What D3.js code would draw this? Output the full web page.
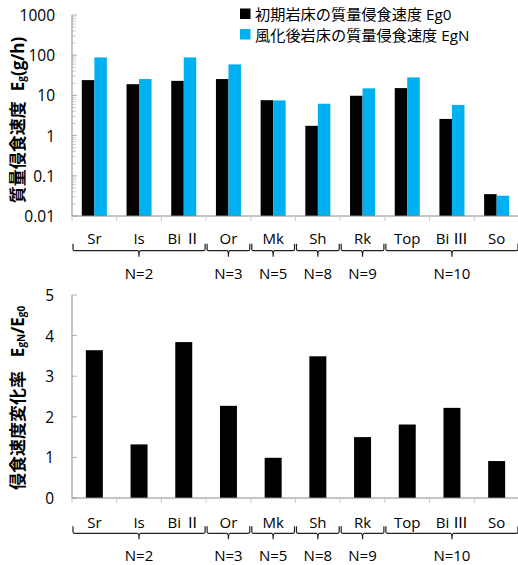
<!DOCTYPE html>
<html><head><meta charset="utf-8">
<script src="https://cdn.jsdelivr.net/npm/d3@7"></script>
<style>
html,body{margin:0;padding:0;background:#fff;}
text{font-family:"Open Sans","Noto Sans CJK JP",sans-serif;fill:#000;}
</style></head>
<body><svg id="c" width="518" height="565"></svg>
<script>
const categories = ["Sr","Is","Bi \u2161","Or","Mk","Sh","Rk","Top","Bi \u2162","So"];
const eg0 = [24, 19, 23, 25.5, 7.6, 1.75, 9.8, 15.2, 2.6, 0.035];
const egN = [88, 25.5, 88, 59, 7.5, 6.2, 15, 28, 5.8, 0.032];
const ratio = [3.64, 1.32, 3.84, 2.27, 0.99, 3.49, 1.50, 1.81, 2.22, 0.91];
const groups = [
  {label:"N=2", from:0, to:2},
  {label:"N=3", from:3, to:3},
  {label:"N=5", from:4, to:4},
  {label:"N=8", from:5, to:5},
  {label:"N=9", from:6, to:6},
  {label:"N=10", from:7, to:9}
];
const logTicks = [0.01, 0.1, 1, 10, 100, 1000];
const logTickLabels = ["0.01","0.1","1","10","100","1000"];
const linTicks = [0,1,2,3,4,5];
const seriesNames = ["初期岩床の質量侵食速度 Eg0","風化後岩床の質量侵食速度 EgN"];
const colors = ["#000000","#00B0F0"];

const svg = d3.select("#c");
const X0 = 72, X1 = 519;
const x = d3.scaleBand().domain(d3.range(categories.length)).range([X0, X1]).padding(0);
const bw = x.bandwidth();

function xAxisBlock(g, yAxis, labelY, brY, nY){
  g.append("line").attr("x1",X0).attr("x2",X1).attr("y1",yAxis).attr("y2",yAxis)
    .attr("stroke","#8c8c8c").attr("stroke-width",1);
  const bounds = d3.range(categories.length+1).map(i => X0 + i*bw);
  g.selectAll(null).data(bounds).join("line")
    .attr("x1",d=>d).attr("x2",d=>d).attr("y1",yAxis).attr("y2",yAxis+5)
    .attr("stroke","#c8c8c8").attr("stroke-width",1);
  g.selectAll(null).data(categories).join("text")
    .attr("x",(d,i)=>x(i)+bw/2).attr("y",labelY)
    .attr("text-anchor","middle").attr("dominant-baseline","central")
    .attr("font-size",15).text(d=>d);
  groups.forEach(gr=>{
    const a = x(gr.from)+1, b = x(gr.to)+bw-1, m=(a+b)/2;
    g.append("path")
      .attr("d",`M${a},${brY-7}L${a},${brY-1.5}Q${a},${brY} ${a+1.5},${brY}L${m-1.5},${brY}Q${m},${brY} ${m},${brY+6}Q${m},${brY} ${m+1.5},${brY}L${b-1.5},${brY}Q${b},${brY} ${b},${brY-1.5}L${b},${brY-7}`)
      .attr("fill","none").attr("stroke","#222").attr("stroke-width",1.2);
    g.append("text").attr("x",m).attr("y",nY)
      .attr("text-anchor","middle").attr("dominant-baseline","central")
      .attr("font-size",15).text(gr.label);
  });
}

// ---------- Top chart ----------
const gTop = svg.append("g");
const yT = d3.scaleLog().domain([0.01,1000]).range([216,15]);
const minor = [];
for (let k=-2;k<3;k++) for (let m=2;m<10;m++) minor.push(m*Math.pow(10,k));
gTop.selectAll(null).data(minor).join("line")
  .attr("x1",X0).attr("x2",X0+4).attr("y1",d=>yT(d)).attr("y2",d=>yT(d))
  .attr("stroke","#d0d0d0").attr("stroke-width",1);
gTop.selectAll(null).data(logTicks).join("line")
  .attr("x1",X0).attr("x2",X0+5).attr("y1",d=>yT(d)).attr("y2",d=>yT(d))
  .attr("stroke","#b0b0b0").attr("stroke-width",1);
gTop.selectAll(null).data(logTicks).join("text")
  .attr("x",55).attr("y",d=>yT(d)).attr("text-anchor","end").attr("dominant-baseline","central")
  .attr("font-size",15.5).text((d,i)=>logTickLabels[i]);
const gw = bw*0.56;
const xs = d3.scaleBand().domain([0,1]).range([0,gw]);
[eg0, egN].forEach((arr,s)=>{
  gTop.selectAll(null).data(arr).join("rect")
    .attr("x",(d,i)=>x(i)+(bw-gw)/2+xs(s)).attr("width",xs.bandwidth())
    .attr("y",d=>yT(d)).attr("height",d=>yT(0.01)-yT(d))
    .attr("fill",colors[s]);
});
gTop.append("line").attr("x1",X0).attr("x2",X0).attr("y1",yT(1000)).attr("y2",216)
  .attr("stroke","#8c8c8c").attr("stroke-width",1);
xAxisBlock(gTop, 216, 238, 250.7, 273);
const tt = gTop.append("text").attr("transform",`translate(17,120) rotate(-90)`)
  .attr("text-anchor","middle").attr("dominant-baseline","central")
  .attr("font-size",17).attr("font-weight","bold");
tt.append("tspan").text("質量侵食速度");
tt.append("tspan").attr("dx",10).text("E");
tt.append("tspan").attr("font-size",10).attr("dy",4).text("g");
tt.append("tspan").attr("dy",-4).text("(g/h)");
seriesNames.forEach((n,i)=>{
  gTop.append("rect").attr("x",240).attr("y",8.5+i*20.5).attr("width",10.5).attr("height",10.5).attr("fill",colors[i]);
  gTop.append("text").attr("x",255).attr("y",14+i*20.5).attr("dominant-baseline","central")
    .attr("font-size",15.2).text(n);
});

// ---------- Bottom chart ----------
const gBot = svg.append("g");
const yB = d3.scaleLinear().domain([0,5]).range([498,295]);
gBot.selectAll(null).data(linTicks).join("line")
  .attr("x1",X0).attr("x2",X0+5).attr("y1",d=>yB(d)).attr("y2",d=>yB(d))
  .attr("stroke","#b0b0b0").attr("stroke-width",1);
gBot.selectAll(null).data(linTicks).join("text")
  .attr("x",54).attr("y",d=>yB(d)).attr("text-anchor","end").attr("dominant-baseline","central")
  .attr("font-size",15.5).text(d=>d);
const bw2 = bw*0.38;
gBot.selectAll(null).data(ratio).join("rect")
  .attr("x",(d,i)=>x(i)+(bw-bw2)/2).attr("width",bw2)
  .attr("y",d=>yB(d)).attr("height",d=>yB(0)-yB(d)).attr("fill","#000");
gBot.append("line").attr("x1",X0).attr("x2",X0).attr("y1",yB(5)).attr("y2",498)
  .attr("stroke","#8c8c8c").attr("stroke-width",1);
xAxisBlock(gBot, 498, 521.7, 533.3, 555);
const bt = gBot.append("text").attr("transform",`translate(17,398) rotate(-90)`)
  .attr("text-anchor","middle").attr("dominant-baseline","central")
  .attr("font-size",17).attr("font-weight","bold");
bt.append("tspan").text("侵食速度変化率");
bt.append("tspan").attr("dx",14).text("E");
bt.append("tspan").attr("font-size",10).attr("dy",4).text("gN");
bt.append("tspan").attr("dy",-4).text("/E");
bt.append("tspan").attr("font-size",10).attr("dy",4).text("g0");
</script></body></html>
